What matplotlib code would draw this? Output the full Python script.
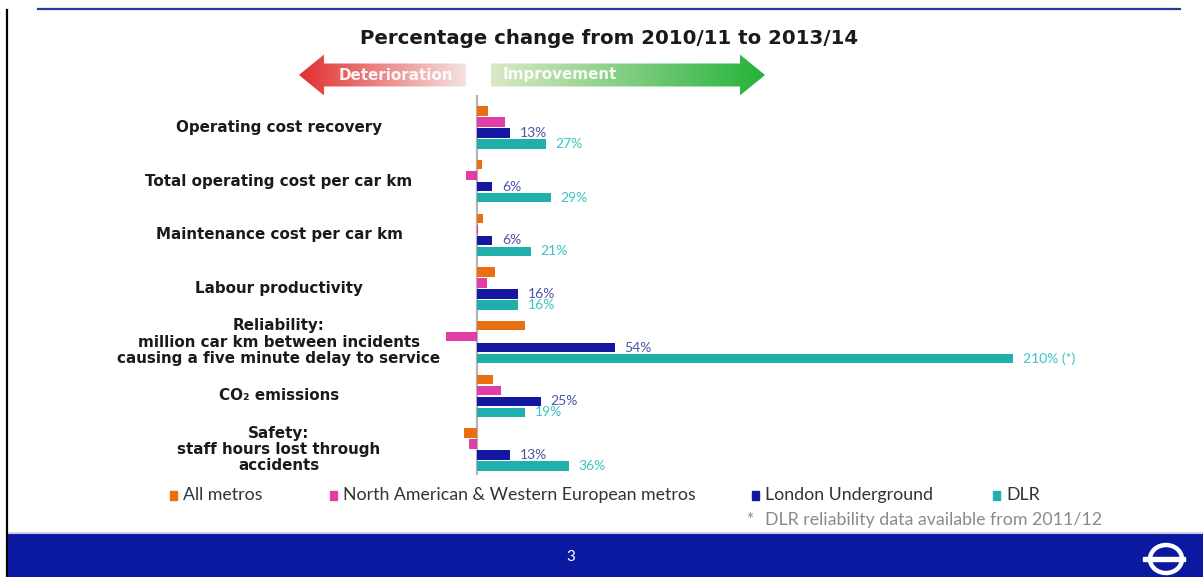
"""
plot.py - percentage change in metro benchmarks, 2010/11 to 2013/14
"""
import matplotlib
matplotlib.use("Agg")
import matplotlib.pyplot as plt
import numpy as np
from matplotlib.patches import Polygon, Rectangle, Ellipse
from matplotlib.transforms import blended_transform_factory
from matplotlib.colors import LinearSegmentedColormap

plt.rcParams['font.family'] = ['DejaVu Sans']
LIGHT = ['Lato', 'DejaVu Sans']

# data
categories = [
    "Operating cost recovery",
    "Total operating cost per car km",
    "Maintenance cost per car km",
    "Labour productivity",
    "Reliability:\nmillion car km between incidents\ncausing a five minute delay to service",
    "CO\u2082 emissions",
    "Safety:\nstaff hours lost through\naccidents",
]
all_metros = [4.5, 1.8, 2.3, 7.0, 19.0, 6.3, -5.0]
na_we_metros = [11.0, -4.5, 0.3, 3.8, -12.0, 9.4, -3.0]
london_underground = [13, 6, 6, 16, 54, 25, 13]
dlr = [27, 29, 21, 16, 210, 19, 36]
lu_labels = ["13%", "6%", "6%", "16%", "54%", "25%", "13%"]
dlr_labels = ["27%", "29%", "21%", "16%", "210% (*)", "19%", "36%"]
series_names = ["All metros", "North American & Western European metros",
                "London Underground", "DLR"]

ORANGE = "#ea6f10"
PINK = "#e23ea8"
NAVY = "#1219a0"
TEAL = "#1fb0ae"
colors = [ORANGE, PINK, NAVY, TEAL]

W, H = 1203, 577
fig = plt.figure(figsize=(W / 100, H / 100), dpi=100)

# background axes in pixel coordinates for the slide decoration
bg = fig.add_axes([0, 0, 1, 1], zorder=0)
bg.set_xlim(0, W)
bg.set_ylim(H, 0)
bg.axis('off')

# top rule, left rule, bottom band
bg.plot([38, 1180], [9, 9], color="#2c3a9c", lw=1.6)
bg.plot([7, 7], [10, H], color="black", lw=1.6)
bg.add_patch(Rectangle((8, 533), W - 8, H - 533, color="#0b19a1", zorder=1))
bg.plot([8, W], [532.5, 532.5], color="#c8cce0", lw=0.8)
bg.text(571, 557, "3", color="white", fontsize=11, family=LIGHT,
        ha='center', va='center', zorder=3)
bg.add_patch(Ellipse((1166, 559), 32, 28, fill=False, ec="white", lw=3.2, zorder=3))
bg.add_patch(Rectangle((1143, 556.5), 42, 4.5, color="white", zorder=3))

bg.text(609.5, 38, "Percentage change from 2010/11 to 2013/14",
        fontsize=14.2, fontweight='bold', color="#1a1a1a", ha='center', va='center')


def gradient_arrow(tip, tail, y, c_left, c_right, head_len=25):
    # horizontal block arrow filled with a left-to-right colour gradient
    body_h, head_h = 11.5, 20.5
    d = 1 if tip < tail else -1
    verts = [(tip, y), (tip + d * head_len, y - head_h), (tip + d * head_len, y - body_h),
             (tail, y - body_h), (tail, y + body_h), (tip + d * head_len, y + body_h),
             (tip + d * head_len, y + head_h)]
    poly = Polygon(verts, closed=True, fc='none', ec='none')
    bg.add_patch(poly)
    cmap = LinearSegmentedColormap.from_list("g", [c_left, c_right])
    x0, x1 = min(tip, tail), max(tip, tail)
    grad = np.linspace(0, 1, 256).reshape(1, -1)
    im = bg.imshow(grad, cmap=cmap, extent=[x0, x1, y + head_h, y - head_h],
                   aspect='auto', interpolation='bicubic', zorder=1)
    im.set_clip_path(poly)


gradient_arrow(299, 466, 75, "#e02f2f", "#f6e2e4")
gradient_arrow(765, 491, 75, "#dbe9c6", "#24b23a")
bg.set_xlim(0, W)
bg.set_ylim(H, 0)
bg.text(396, 75, "Deterioration", color="white", fontsize=10.9, fontweight='bold',
        ha='center', va='center', alpha=0.92, zorder=2)
bg.text(560, 75, "Improvement", color="white", fontsize=10.9, fontweight='bold',
        ha='center', va='center', alpha=0.92, zorder=2)

# bar axes: zero at x=477 px, 2.552 px per percent, group spacing 53.67 px
px_per_pct = 2.552
group_px = 53.67
ax_left, ax_right, ax_top, ax_bottom = 400, 1100, 95, 475
ax = fig.add_axes([ax_left / W, (H - ax_bottom) / H,
                   (ax_right - ax_left) / W, (ax_bottom - ax_top) / H], zorder=2)
ax.set_xlim((ax_left - 477) / px_per_pct, (ax_right - 477) / px_per_pct)
ax.set_ylim((ax_bottom - 127.5) / group_px, (ax_top - 127.5) / group_px)
ax.axis('off')

y = np.arange(len(categories))
offsets = np.array([-16.5, -5.5, 5.5, 16.5]) / group_px
bar_h = 9.5 / group_px
series = [all_metros, na_we_metros, london_underground, dlr]
for vals, off, col in zip(series, offsets, colors):
    ax.barh(y + off, vals, height=bar_h, color=col, zorder=2)

ax.plot([0, 0], [6.45, -0.6], color="#b5b5b5", lw=1.6, zorder=1)

for i in range(len(categories)):
    ax.annotate(lu_labels[i], (london_underground[i], y[i] + offsets[2]),
                xytext=(7, 0), textcoords='offset points', va='center',
                fontsize=10, family=LIGHT, color="#4b54a6")
    ax.annotate(dlr_labels[i], (dlr[i], y[i] + offsets[3]),
                xytext=(7, 0), textcoords='offset points', va='center',
                fontsize=10, family=LIGHT, color="#3cc3c0")

# category labels, centred left of the bars
trans = blended_transform_factory(bg.transData, ax.transData)
for i, cat in enumerate(categories):
    fig.text(279, y[i], cat, transform=trans, ha='center', va='center',
             fontsize=10.9, fontweight='bold', color="#1a1a1a", linespacing=1.12)

# legend
legend_x = [170, 330, 752, 993]
for name, col, lx in zip(series_names, colors, legend_x):
    bg.add_patch(Rectangle((lx, 490.5), 6.5, 9, color=col))
    bg.text(lx + 13, 495, name, fontsize=12.8, family=LIGHT, color="#333333", va='center')

bg.text(746, 520, "*", fontsize=12, family=LIGHT, color="#8a8a8a", va='center')
bg.text(765, 520, "DLR reliability data available from 2011/12",
        fontsize=12.8, family=LIGHT, color="#8a8a8a", va='center')

fig.savefig("out.png", dpi=100)
